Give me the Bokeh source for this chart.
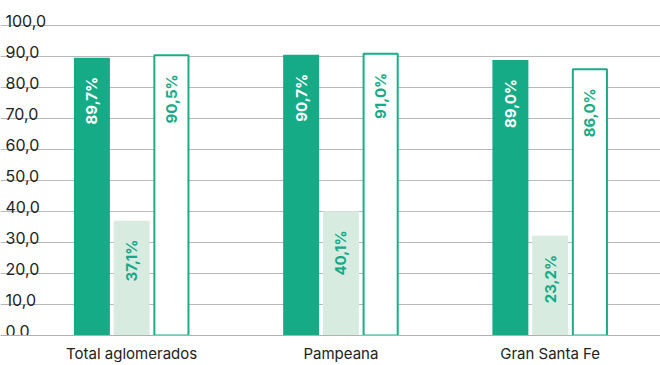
from math import pi
from bokeh.plotting import figure
from bokeh.models import ColumnDataSource, Range1d, FixedTicker
from bokeh.transform import dodge
from bokeh.core.properties import value
from bokeh.embed import file_html
from bokeh.resources import INLINE

# ---- data ----
categories = ["Total aglomerados", "Pampeana", "Gran Santa Fe"]
serie_a = [89.7, 90.7, 89.0]
serie_b_bar = [37.1, 40.1, 32.2]      # bar heights as drawn
serie_b_label = [37.1, 40.1, 23.2]    # values printed on the bars
serie_c = [90.5, 91.0, 86.0]
y_ticks = [0, 10, 20, 30, 40, 50, 60, 70, 80, 90, 100]
y_tick_labels = ["0,0", "10,0", "20,0", "30,0", "40,0", "50,0", "60,0", "70,0", "80,0", "90,0", "100,0"]


def fmt(v):
    return f"{v:.1f}".replace(".", ",") + "%"


idx = list(range(len(categories)))
src = ColumnDataSource(dict(
    x=idx,
    a=serie_a, b=serie_b_bar, c=serie_c,
    a_lbl=[fmt(v) for v in serie_a],
    b_lbl=[fmt(v) for v in serie_b_label],
    c_lbl=[fmt(v) for v in serie_c],
))

DARK = "#15AB86"
LIGHT = "#D7EBE1"
GREEN_TXT = "#17A986"
FONT = "Inter"

x_start = -0.6268
p = figure(width=660, height=365, output_backend="svg", toolbar_location=None,
           x_range=Range1d(x_start, 2.5274), y_range=Range1d(0, 108.2),
           y_axis_location=None,
           min_border_left=0, min_border_right=0, min_border_top=0, min_border_bottom=30)
p.outline_line_color = None
p.background_fill_color = "white"
p.border_fill_color = "white"

p.xgrid.visible = False
p.ygrid.ticker = FixedTicker(ticks=y_ticks)
p.ygrid.grid_line_color = "#b8b8b8"
p.ygrid.grid_line_width = 1

p.xaxis.ticker = FixedTicker(ticks=idx)
p.xaxis.major_label_overrides = {i: c for i, c in zip(idx, categories)}
p.xaxis.axis_line_color = "#b0b0b0"
p.xaxis.major_tick_line_color = None
p.xaxis.major_tick_out = 0
p.xaxis.major_tick_in = 0
p.xaxis.minor_tick_line_color = None
p.xaxis.minor_tick_out = 0
p.xaxis.major_label_standoff = 8
p.xaxis.major_label_text_font = FONT
p.xaxis.major_label_text_font_size = "15px"
p.xaxis.major_label_text_color = "#222222"

OFF = 0.19
W = 0.172

p.vbar(x=dodge("x", -OFF, range=p.x_range), top="a", width=W, source=src,
       fill_color=DARK, line_color=None)
p.vbar(x=dodge("x", 0, range=p.x_range), top="b", width=W, source=src,
       fill_color=LIGHT, line_color=None)
p.vbar(x=dodge("x", OFF, range=p.x_range), top="c", width=0.163, source=src,
       fill_color="white", line_color="#1AAD87", line_width=2)

common = dict(angle=pi / 2, text_align="right", text_baseline="middle", y_offset=19,
              text_font=value(FONT), text_font_size="15px", text_font_style="bold", source=src)
p.text(x=dodge("x", -OFF, range=p.x_range), y="a", text="a_lbl", text_color="white", **common)
p.text(x=dodge("x", 0, range=p.x_range), y="b", text="b_lbl", text_color=GREEN_TXT, **common)
p.text(x=dodge("x", OFF, range=p.x_range), y="c", text="c_lbl", text_color=GREEN_TXT, **common)

p.text(x=[x_start] * len(y_ticks), y=y_ticks, text=y_tick_labels,
       text_align="left", text_baseline="alphabetic", x_offset=5, y_offset=-5,
       text_font=value(FONT), text_font_size="16px", text_color="#222222")

open("out.html", "w").write(file_html(p, INLINE))
